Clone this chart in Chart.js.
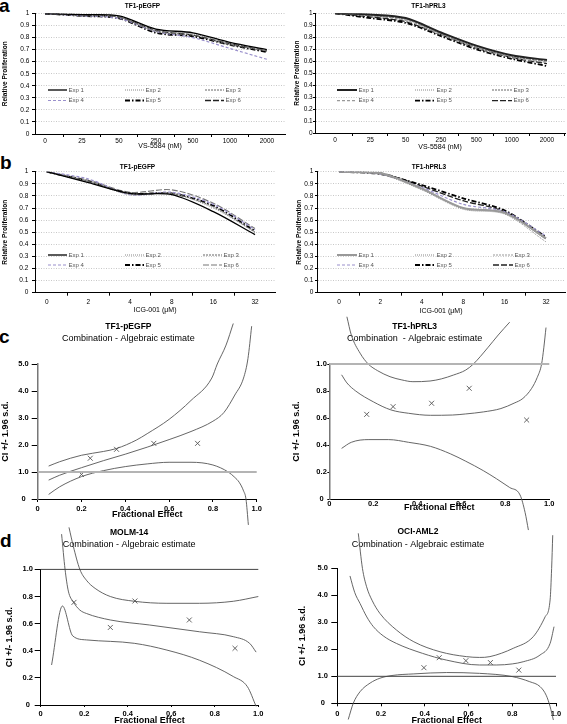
<!DOCTYPE html>
<html><head><meta charset="utf-8">
<script src="https://cdn.jsdelivr.net/npm/chart.js@4.4.1/dist/chart.umd.min.js"></script>
<style>
html,body{margin:0;padding:0;width:567px;height:724px;overflow:hidden;background:#fff;}
canvas{position:absolute;}
.lab{position:absolute;font:bold 19px "Liberation Sans",Arial,sans-serif;line-height:1;color:#000;}
</style></head><body>
<div class="lab" style="left:-1px;top:-4px">a</div>
<div class="lab" style="left:0px;top:153px">b</div>
<div class="lab" style="left:-1px;top:327px">c</div>
<div class="lab" style="left:0px;top:531px">d</div>
<canvas id="aL" width="290" height="154" style="left:0;top:0"></canvas>
<canvas id="aR" width="275" height="154" style="left:292px;top:0"></canvas>
<canvas id="bL" width="290" height="155" style="left:0;top:160px"></canvas>
<canvas id="bR" width="274" height="155" style="left:293px;top:160px"></canvas>
<canvas id="cL" width="276" height="220" style="left:0;top:315px"></canvas>
<canvas id="cR" width="287" height="220" style="left:280px;top:315px"></canvas>
<canvas id="dL" width="268" height="210" style="left:0;top:520px"></canvas>
<canvas id="dR" width="287" height="210" style="left:280px;top:520px"></canvas>
<script>
// ---------------- DATA ----------------
const vsDoses = ['0', '25', '50', '250', '500', '1000', '2000'];
const icgDoses = ['0', '2', '4', '8', '16', '32'];
const expNames = ['Exp 1', 'Exp 2', 'Exp 3', 'Exp 4', 'Exp 5', 'Exp 6'];
const propYTickValues = [0, 0.1, 0.2, 0.3, 0.4, 0.5, 0.6, 0.7, 0.8, 0.9, 1];
const propYTickLabels = ['0', '0.1', '0.2', '0.3', '0.4', '0.5', '0.6', '0.7', '0.8', '0.9', '1'];

// a: VS-5584, relative proliferation (rows = Exp 1..6)
const vsPEGFP = [
  [1.00, 0.99, 0.98, 0.87, 0.84, 0.76, 0.70],
  [1.00, 0.99, 0.97, 0.86, 0.83, 0.75, 0.69],
  [1.00, 0.98, 0.97, 0.85, 0.82, 0.74, 0.69],
  [1.00, 0.98, 0.96, 0.85, 0.80, 0.71, 0.62],
  [1.00, 0.98, 0.96, 0.84, 0.81, 0.74, 0.68],
  [1.00, 0.99, 0.97, 0.86, 0.82, 0.75, 0.69]
];
const vsPRL3 = [
  [1.00, 0.99, 0.96, 0.84, 0.73, 0.65, 0.61],
  [1.00, 0.98, 0.95, 0.83, 0.72, 0.64, 0.60],
  [1.00, 0.98, 0.95, 0.83, 0.72, 0.64, 0.60],
  [1.00, 0.98, 0.94, 0.82, 0.71, 0.63, 0.59],
  [1.00, 0.96, 0.92, 0.81, 0.70, 0.62, 0.56],
  [1.00, 0.97, 0.93, 0.82, 0.71, 0.63, 0.58]
];
// b: ICG-001
const icgPEGFP = [
  [1.00, 0.91, 0.82, 0.81, 0.67, 0.48],
  [1.00, 0.92, 0.81, 0.82, 0.70, 0.50],
  [1.00, 0.92, 0.82, 0.82, 0.71, 0.50],
  [1.00, 0.94, 0.81, 0.83, 0.73, 0.52],
  [1.00, 0.92, 0.82, 0.82, 0.72, 0.51],
  [1.00, 0.93, 0.83, 0.85, 0.74, 0.53]
];
const icgPRL3 = [
  [1.00, 0.99, 0.86, 0.70, 0.66, 0.45],
  [1.00, 0.98, 0.85, 0.69, 0.65, 0.42],
  [1.00, 0.98, 0.86, 0.70, 0.66, 0.44],
  [1.00, 0.98, 0.87, 0.73, 0.67, 0.47],
  [1.00, 0.98, 0.89, 0.78, 0.68, 0.46],
  [1.00, 0.99, 0.88, 0.76, 0.67, 0.45]
];

// c/d: combination index vs fractional effect
const ciXTicks = [0, 0.2, 0.4, 0.6, 0.8, 1.0];
const ciXLabels = ['0', '0.2', '0.4', '0.6', '0.8', '1.0'];
const ciYTicksSmall = [0, 0.2, 0.4, 0.6, 0.8, 1.0];
const ciYLabelsSmall = ['0', '0.2', '0.4', '0.6', '0.8', '1.0'];
const ciYTicksLarge = [0, 1, 2, 3, 4, 5];
const ciYLabelsLarge = ['0', '1.0', '2.0', '3.0', '4.0', '5.0'];
const ciRefX = [0, 1];
const ciRefY = [1, 1];

const pegfpUpper = [[0.05,1.22],[0.1,1.38],[0.2,1.62],[0.3,1.76],[0.36,1.87],[0.45,2.18],[0.5,2.42],[0.6,2.95],[0.7,3.65],[0.795,4.48],[0.82,5.0],[0.86,5.7],[0.893,6.5]];
const pegfpMid = [[0.05,0.70],[0.1,0.88],[0.2,1.16],[0.3,1.42],[0.4,1.66],[0.5,1.92],[0.6,2.2],[0.7,2.5],[0.8,2.88],[0.85,3.2],[0.9,3.85],[0.94,4.48],[0.96,5.2],[0.977,6.4]];
const pegfpLow = [[0.05,0.17],[0.1,0.45],[0.2,0.83],[0.3,1.05],[0.4,1.2],[0.5,1.3],[0.6,1.36],[0.7,1.36],[0.8,1.26],[0.87,1.0],[0.9,0.8],[0.92,0.62],[0.94,0.3],[0.951,0.0],[0.962,-0.96]];
const pegfpPoints = [[0.20,0.91],[0.24,1.51],[0.36,1.84],[0.53,2.06],[0.73,2.06]];

const prl3Upper = [[0.08,1.35],[0.10,1.215],[0.14,1.08],[0.177,1.0],[0.22,0.95],[0.276,0.906],[0.33,0.882],[0.38,0.869],[0.458,0.874],[0.51,0.89],[0.564,0.918],[0.62,0.955],[0.655,1.0],[0.72,1.12],[0.768,1.215],[0.82,1.31]];
const prl3Mid = [[0.056,0.92],[0.08,0.86],[0.12,0.80],[0.2,0.72],[0.28,0.66],[0.36,0.635],[0.46,0.62],[0.56,0.622],[0.62,0.63],[0.7,0.645],[0.78,0.67],[0.84,0.71],[0.88,0.745],[0.92,0.82],[0.945,0.9],[0.965,1.0],[0.975,1.12],[0.985,1.27]];
const prl3Low = [[0.056,0.375],[0.1,0.42],[0.18,0.44],[0.27,0.44],[0.36,0.42],[0.46,0.39],[0.55,0.335],[0.62,0.28],[0.7,0.21],[0.76,0.15],[0.82,0.085],[0.867,0.03],[0.89,-0.1],[0.905,-0.23]];
const prl3Points = [[0.17,0.627],[0.29,0.684],[0.465,0.709],[0.636,0.82],[0.897,0.585]];

const molmUpper = [[0.13,1.31],[0.15,1.17],[0.18,1.0],[0.21,0.92],[0.25,0.86],[0.32,0.80],[0.43,0.765],[0.58,0.75],[0.73,0.75],[0.885,0.765],[1.0,0.80]];
const molmMid = [[0.096,1.26],[0.112,1.0],[0.127,0.84],[0.15,0.76],[0.18,0.70],[0.21,0.675],[0.32,0.627],[0.5,0.59],[0.73,0.54],[0.885,0.504],[0.96,0.455],[0.99,0.39]];
const molmLow = [[0.05,0.295],[0.10,0.73],[0.147,0.51],[0.21,0.48],[0.43,0.455],[0.58,0.405],[0.73,0.33],[0.885,0.21],[0.95,0.135],[0.99,-0.01]];
const molmPoints = [[0.153,0.757],[0.32,0.572],[0.433,0.767],[0.683,0.627],[0.893,0.418]];

const ociUpper = [[0.096,6.3],[0.115,5.0],[0.134,4.32],[0.16,3.8],[0.195,3.33],[0.27,2.72],[0.35,2.28],[0.47,1.91],[0.59,1.73],[0.65,1.70],[0.698,1.73],[0.805,2.04],[0.896,2.47],[0.95,3.2],[0.973,3.83],[0.98,5.0],[0.985,6.23]];
const ociMid = [[0.058,4.72],[0.08,4.1],[0.104,3.7],[0.135,3.2],[0.165,2.84],[0.21,2.5],[0.27,2.22],[0.39,1.85],[0.5,1.6],[0.65,1.42],[0.729,1.42],[0.8,1.46],[0.85,1.54],[0.927,1.79],[0.973,2.22],[0.991,2.84]];
const ociLow = [[0.05,-0.6],[0.073,0.0],[0.104,0.43],[0.15,0.75],[0.195,0.93],[0.25,1.03],[0.35,1.09],[0.5,1.14],[0.65,1.11],[0.8,0.99],[0.88,0.8],[0.927,0.62],[0.955,0.3],[0.973,-0.12],[0.988,-0.62]];
const ociPoints = [[0.396,1.32],[0.466,1.69],[0.588,1.58],[0.70,1.51],[0.83,1.23]];

// ---------------- STYLE / HELPERS ----------------
const FONT = '"Liberation Sans", Arial, Helvetica, sans-serif';
Chart.defaults.font.family = FONT;
Chart.defaults.color = '#000';
Chart.defaults.animation = false;
Chart.defaults.responsive = false;
Chart.defaults.devicePixelRatio = 1;
Chart.defaults.events = [];
Chart.defaults.plugins.legend.display = false;
Chart.defaults.plugins.tooltip.enabled = false;

const expStyle = [
  {borderColor: '#000', borderWidth: 1.3, borderDash: []},
  {borderColor: '#888', borderWidth: 1, borderDash: [1, 1]},
  {borderColor: '#666', borderWidth: 1, borderDash: [2, 1]},
  {borderColor: '#9a90cc', borderWidth: 1.2, borderDash: [3, 2]},
  {borderColor: '#000', borderWidth: 1.8, borderDash: [5, 2, 1.5, 2]},
  {borderColor: '#222', borderWidth: 1.3, borderDash: [6, 2]}
];

function legendPlugin(g) {
  return {
    id: 'insideLegend',
    afterDatasetsDraw(chart) {
      const {ctx, chartArea} = chart;
      ctx.save();
      chart.data.datasets.forEach((ds, i) => {
        const x = chartArea.left + g.cols[i % 3];
        const y = chartArea.top + g.rows[Math.floor(i / 3)];
        ctx.beginPath();
        ctx.setLineDash(ds.borderDash || []);
        ctx.strokeStyle = ds.borderColor;
        ctx.lineWidth = ds.borderWidth;
        ctx.moveTo(x, y);
        ctx.lineTo(x + g.len, y);
        ctx.stroke();
        ctx.setLineDash([]);
        ctx.fillStyle = '#555';
        ctx.font = '6px ' + FONT;
        ctx.textBaseline = 'middle';
        ctx.textAlign = 'left';
        ctx.fillText(ds.label, x + g.len + 1.5, y);
      });
      ctx.restore();
    }
  };
}

function propChart(id, cats, series, c) {
  const datasets = series.map((vals, i) => Object.assign({
    label: expNames[i],
    data: vals.map((v, j) => ({x: j, y: v})),
    pointRadius: 0, tension: 0.3, fill: false
  }, expStyle[i], (c.styleOverride && c.styleOverride[i]) || {}));
  return new Chart(document.getElementById(id), {
    type: 'line',
    data: {datasets},
    options: {
      layout: {padding: {left: 0, right: c.padR, top: 0, bottom: 0}},
      plugins: {
        title: {display: true, text: c.title, color: '#000',
          font: {size: 6.5, weight: 'bold', family: FONT}, padding: c.titlePad}
      },
      scales: {
        x: {
          type: 'linear', min: c.min, max: c.max,
          afterBuildTicks(s) {
            const t = [];
            for (let k = 0; k < cats.length; k++) {
              t.push({value: k});
              if (k + 0.5 <= s.max) t.push({value: k + 0.5});
            }
            s.ticks = t;
          },
          afterFit(s) { s.height = c.xH; },
          ticks: {autoSkip: false, maxRotation: 0, minRotation: 0, padding: c.xTickPad,
            font: {size: 6.5, family: FONT}, color: '#000',
            callback: (v) => Number.isInteger(v) ? cats[v] : ''},
          grid: {drawOnChartArea: false, drawTicks: true, tickLength: 3, color: 'rgba(0,0,0,0)',
            tickColor: (ctx) => (ctx.tick && Number.isInteger(ctx.tick.value)) ? 'rgba(0,0,0,0)' : '#000'},
          border: {display: true, color: '#000', width: 1},
          title: {display: true, text: c.xTitle, color: '#000', font: {size: 7, family: FONT},
            padding: {top: 0, bottom: c.xTitlePadB}}
        },
        y: {
          type: 'linear', min: 0, max: 1,
          afterBuildTicks(s) { s.ticks = propYTickValues.map(v => ({value: v})); },
          afterFit(s) { s.width = c.yW; },
          ticks: {padding: c.yTickPad, font: {size: 6.5, family: FONT}, color: '#000',
            callback: (v, i) => propYTickLabels[i]},
          grid: {color: '#c8c8c8', lineWidth: 1, drawTicks: true, tickLength: c.yTickLen, tickColor: '#000'},
          border: {display: true, color: '#000', width: 1, dash: [1, 1.5]},
          title: {display: true, text: 'Relative Proliferation', color: '#000',
            font: {size: 6.5, weight: 'bold', family: FONT}, padding: {top: c.yTitlePad, bottom: 0}}
        }
      }
    },
    plugins: [legendPlugin(c.legend)]
  });
}

function ciChart(id, c) {
  const curve = (pts, label) => ({label, data: pts.map(p => ({x: p[0], y: p[1]})),
    borderColor: '#555', borderWidth: 0.9, pointRadius: 0, fill: false, clip: false,
    cubicInterpolationMode: 'monotone'});
  const datasets = [
    {label: 'CI = 1', data: ciRefX.map((x, i) => ({x, y: ciRefY[i]})), borderColor: c.refColor,
      borderWidth: c.refWidth, pointRadius: 0, fill: false, clip: false},
    curve(c.upper, 'Upper limit'),
    curve(c.mid, 'CI'),
    curve(c.low, 'Lower limit'),
    {label: 'Data', data: c.points.map(p => ({x: p[0], y: p[1]})), showLine: false,
      pointStyle: 'crossRot', pointRadius: 3.5, pointBorderColor: '#555', pointBorderWidth: 0.9,
      pointBackgroundColor: 'rgba(0,0,0,0)', clip: false}
  ];
  return new Chart(document.getElementById(id), {
    type: 'line',
    data: {datasets},
    options: {
      layout: {padding: {left: 0, right: c.padR, top: 0, bottom: 0}},
      plugins: {
        title: {display: true, text: c.title, color: '#000',
          font: {size: 8.5, weight: 'bold', family: FONT}, padding: c.titlePad},
        subtitle: {display: true, text: c.subtitle, color: '#000',
          font: {size: 9, family: FONT}, padding: c.subPad}
      },
      scales: {
        x: {
          type: 'linear', min: 0, max: 1,
          afterBuildTicks(s) { s.ticks = ciXTicks.map(v => ({value: v})); },
          afterFit(s) { s.height = c.xH; },
          ticks: {autoSkip: false, maxRotation: 0, minRotation: 0, padding: c.xTickPad,
            font: {size: 7.5, weight: 'bold', family: FONT}, color: '#000',
            callback: (v, i) => ciXLabels[i]},
          grid: {drawOnChartArea: false, drawTicks: c.xTickLen > 0, tickLength: c.xTickLen, tickColor: '#000'},
          border: {display: true, color: '#000', width: 1},
          title: {display: true, text: 'Fractional Effect', color: '#000',
            font: {size: 9, weight: 'bold', family: FONT}, padding: {top: 0, bottom: c.xTitlePadB}}
        },
        y: {
          type: 'linear', min: 0, max: c.yTicks[c.yTicks.length - 1],
          afterBuildTicks(s) { s.ticks = c.yTicks.map(v => ({value: v})); },
          afterFit(s) { s.width = c.yW; },
          ticks: {crossAlign: 'center', padding: c.yTickPad,
            font: {size: 7.5, weight: 'bold', family: FONT}, color: '#000',
            callback: (v, i) => c.yLabels[i]},
          grid: {drawOnChartArea: false, drawTicks: true, tickLength: c.yTickLen, tickColor: '#000'},
          border: {display: true, color: c.yBorder, width: c.yBorderW},
          title: {display: true, text: 'CI +/- 1.96 s.d.', color: '#000',
            font: {size: 9, weight: 'bold', family: FONT}, padding: {top: c.yTitlePad, bottom: 0}}
        }
      }
    }
  });
}

// ---------------- CHARTS ----------------
propChart('aL', vsDoses, vsPEGFP, {
  title: 'TF1-pEGFP', xTitle: 'VS-5584 (nM)', padR: 5, xH: 20, yW: 35, min: -0.27, max: 6.49,
  titlePad: {top: 2.1, bottom: 3.6}, xTickPad: 0, xTitlePadB: 3.8, yTickLen: 3, yTickPad: 2.7, yTitlePad: 1.6,
  legend: {cols: [13, 90, 170], rows: [76.5, 87], len: 19}
});
propChart('aR', vsDoses, vsPRL3, {
  title: 'TF1-hPRL3', xTitle: 'VS-5584 (nM)', padR: 2, xH: 21, yW: 23, min: -0.566, max: 6.51,
  titlePad: {top: 2, bottom: 3.5}, xTickPad: 0.75, xTitlePadB: 3.1, yTickLen: 2, yTickPad: 0.3, yTitlePad: 1.6,
  legend: {cols: [22, 100, 177], rows: [76.7, 87.4], len: 20},
  styleOverride: {0: {borderWidth: 2, borderColor: '#222'}, 3: {borderColor: '#999'}}
});
propChart('bL', icgDoses, icgPEGFP, {
  title: 'TF1-pEGFP', xTitle: 'ICG-001 (\u03bcM)', padR: 15, xH: 22.3, yW: 35, min: -0.281, max: 5.48,
  titlePad: {top: 3.6, bottom: 0.3}, xTickPad: 2.75, xTitlePadB: 0.8, yTickLen: 3, yTickPad: 3.7, yTitlePad: 1.1,
  legend: {cols: [13, 90, 168], rows: [83.3, 93.3], len: 19},
  styleOverride: {5: {borderColor: '#777', borderWidth: 1.1}}
});
propChart('bR', icgDoses, icgPRL3, {
  title: 'TF1-hPRL3', xTitle: 'ICG-001 (\u03bcM)', padR: 2, xH: 22.3, yW: 24, min: -0.531, max: 5.459,
  titlePad: {top: 3.6, bottom: 0.3}, xTickPad: 2.75, xTitlePadB: 0, yTickLen: 2, yTickPad: 1.7, yTitlePad: 2.1,
  legend: {cols: [20, 98, 176], rows: [83.3, 93.3], len: 20},
  styleOverride: {0: {borderColor: '#999', borderWidth: 2}, 2: {borderColor: '#999'}}
});

ciChart('cL', {
  title: 'TF1-pEGFP', subtitle: 'Combination - Algebraic estimate',
  yTicks: ciYTicksLarge, yLabels: ciYLabelsLarge,
  upper: pegfpUpper, mid: pegfpMid, low: pegfpLow, points: pegfpPoints,
  refColor: '#b4b4b4', refWidth: 2, yBorder: '#777', yBorderW: 1.5,
  padR: 19.3, xH: 36, yW: 37.7, titlePad: {top: 6.9, bottom: 0}, subPad: {top: 0.8, bottom: 20.3},
  xTickLen: 3, xTickPad: 2, xTitlePadB: 14.6, yTickLen: 6, yTickPad: 3, yTitlePad: 0
});
ciChart('cR', {
  title: 'TF1-hPRL3', subtitle: 'Combination  - Algebraic estimate',
  yTicks: ciYTicksSmall, yLabels: ciYLabelsSmall,
  upper: prl3Upper, mid: prl3Mid, low: prl3Low, points: prl3Points,
  refColor: '#b4b4b4', refWidth: 2, yBorder: '#777', yBorderW: 1.5,
  padR: 17.7, xH: 36, yW: 49.3, titlePad: {top: 6.9, bottom: 0}, subPad: {top: 0.8, bottom: 20.3},
  xTickLen: 0, xTickPad: 0, xTitlePadB: 22.3, yTickLen: 2, yTickPad: 0.5, yTitlePad: 11.6
});
ciChart('dL', {
  title: 'MOLM-14', subtitle: 'Combination - Algebraic estimate',
  yTicks: ciYTicksSmall, yLabels: ciYLabelsSmall,
  upper: molmUpper, mid: molmMid, low: molmLow, points: molmPoints,
  refColor: '#444', refWidth: 1, yBorder: '#000', yBorderW: 1,
  padR: 9.7, xH: 25, yW: 40.7, titlePad: {top: 7.9, bottom: 0}, subPad: {top: 0.6, bottom: 19.9},
  xTickLen: 2, xTickPad: 2, xTitlePadB: 3.6, yTickLen: 6, yTickPad: 1.7, yTitlePad: 4.6
});
ciChart('dR', {
  title: 'OCI-AML2', subtitle: 'Combination - Algebraic estimate',
  yTicks: ciYTicksLarge, yLabels: ciYLabelsLarge,
  upper: ociUpper, mid: ociMid, low: ociLow, points: ociPoints,
  refColor: '#444', refWidth: 1, yBorder: '#000', yBorderW: 1,
  padR: 11, xH: 26.7, yW: 57.3, titlePad: {top: 6.6, bottom: 0}, subPad: {top: 1.9, bottom: 18.9},
  xTickLen: 3, xTickPad: 2.7, xTitlePadB: 3.6, yTickLen: 6, yTickPad: 3.3, yTitlePad: 17.6
});
</script>
</body></html>
